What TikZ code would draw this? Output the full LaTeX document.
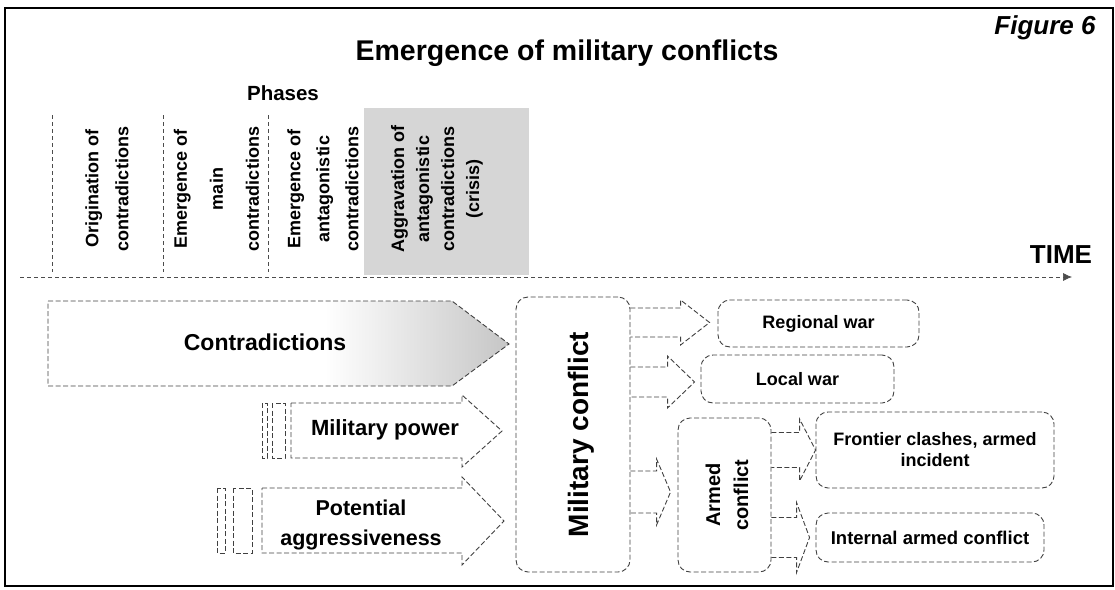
\documentclass[tikz,border=0pt]{standalone}
\usepackage{fontspec}
\setmainfont{Liberation Sans}
\usepackage{graphicx}
\usetikzlibrary{arrows.meta,calc}

\newcommand{\sizedbf}[2]{\bfseries\fontsize{#1}{#2}\selectfont}
\newcommand{\flowarrow}[5]{%
  \draw[outline] let \p1=(#1), \p2=(#2) in
    (\x1,\y2+#3) -- (\x2-#5,\y2+#3) -- (\x2-#5,\y2+#4) -- (\x2,\y2)
    -- (\x2-#5,\y2-#4) -- (\x2-#5,\y2-#3) -- (\x1,\y2-#3);}

\pgfdeclarehorizontalshading{tipshade}{100bp}{color(0bp)=(white); color(55bp)=(white); color(75bp)=(gray!45); color(100bp)=(gray!45)}

\tikzset{
  outline/.style={draw=black!75, line width=0.9pt, dash pattern=on 5pt off 2.5pt},
  phaseline/.style={draw=black!70, line width=0.7pt, dash pattern=on 4pt off 3pt},
  phase/.style={rotate=90, align=center, inner sep=0pt},
  conflictbox/.style={outline, rounded corners=12pt, align=center, inner sep=2pt}
}

\begin{document}
\begin{tikzpicture}[x=1pt, y=-1pt]
\useasboundingbox (0,0) rectangle (1115,589);
\draw[line width=1.6pt] (5,8) rectangle (1113,586);

\node[font=\sizedbf{28.5}{32}] (title) at (567,53) {Emergence of military conflicts};
\node[font=\itshape\sizedbf{26}{30}] (fig) at (1045,28) {Figure 6};
\node[font=\sizedbf{20.5}{24}] (phases) at (283,93) {Phases};

\fill[gray!32] (364,108) rectangle (529,275);
\draw[phaseline] (52,115) -- (52,272);
\draw[phaseline] (163,115) -- (163,272);
\draw[phaseline] (268,115) -- (268,272);

\node[phase, font=\sizedbf{18}{30}] (ph1) at (107,189) {Origination of\\contradictions};
\node[phase, font=\sizedbf{18}{36}] (ph2) at (216.5,189) {Emergence of\\main\\contradictions};
\node[phase, font=\sizedbf{18}{29}] (ph3) at (323,189) {Emergence of\\antagonistic\\contradictions};
\node[phase, font=\sizedbf{18}{25}] (ph4) at (437,189) {Aggravation of\\antagonistic\\contradictions\\(crisis)};

\node[font=\sizedbf{26}{30}] (time) at (1061,255) {TIME};
\coordinate (t0) at (20,277);
\coordinate (t1) at (1072,277);
\draw[phaseline, -{Latex[length=9pt, width=8pt]}] (t0) -- (t1);

\path[shading=tipshade] (48,301) -- (452,301) -- (509,344) -- (452,386) -- (48,386) -- cycle;
\draw[outline] (48,301) -- (452,301) -- (509,344) -- (452,386) -- (48,386) -- cycle;
\node[font=\sizedbf{23}{27}] (contr) at (265,342) {Contradictions};

\draw[outline] (262,403) rectangle (267,458);
\draw[outline] (272,403) rectangle (285,458);
\draw[outline] (291,403) -- (462,403) -- (462,395) -- (502,431) -- (462,467) -- (462,458) -- (291,458) -- cycle;
\node[font=\sizedbf{22}{26}] (power) at (385,430) {Military power};

\draw[outline] (217,488) rectangle (225,553);
\draw[outline] (233,488) rectangle (252,553);
\draw[outline] (262,488) -- (462,488) -- (462,477) -- (504,521) -- (462,565) -- (462,553) -- (262,553) -- cycle;
\node[font=\sizedbf{21.5}{30}, align=center] (aggr) at (361,525) {Potential\\aggressiveness};

\node[conflictbox, minimum width=114, minimum height=275, font=\sizedbf{28}{32}] (mc) at (573,434.5) {\hspace*{16pt}\rotatebox{90}{Military conflict}};
\node[conflictbox, minimum width=201, minimum height=47, font=\sizedbf{18}{22}] (rw) at (818.5,323.5) {Regional war};
\node[conflictbox, minimum width=193, minimum height=48, font=\sizedbf{18}{22}] (lw) at (797.5,379) {Local war};
\node[conflictbox, minimum width=93, minimum height=154, font=\sizedbf{20}{28}] (ac) at (724.5,495) {\hspace*{8pt}\rotatebox{90}{\begin{tabular}{@{}c@{}}Armed\\conflict\end{tabular}}};
\node[conflictbox, minimum width=238, minimum height=76, font=\sizedbf{18}{21}] (fc) at (935,450) {Frontier clashes, armed\\incident};
\node[conflictbox, minimum width=228, minimum height=49, font=\sizedbf{18.5}{22}] (ic) at (930,537.5) {Internal armed conflict};

\flowarrow{mc.east}{$(rw.west)+(-8,-1)$}{14.5pt}{22.5pt}{29pt}
\flowarrow{mc.east}{$(lw.west)+(-6,3)$}{15pt}{26pt}{27pt}
\flowarrow{mc.east}{$(ac.west)+(-7,-3)$}{21pt}{33pt}{14pt}
\flowarrow{ac.east}{fc.west}{17.5pt}{31pt}{16pt}
\flowarrow{ac.east}{$(ic.west)+(-6,0)$}{20pt}{35pt}{13pt}
\end{tikzpicture}
\end{document}
